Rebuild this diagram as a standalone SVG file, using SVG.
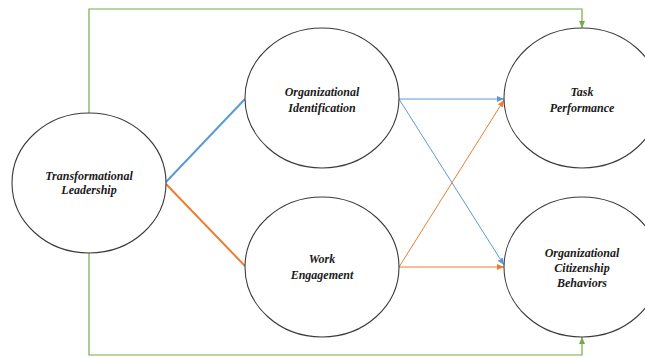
<svg xmlns="http://www.w3.org/2000/svg" width="645" height="358" viewBox="0 0 645 358">
  <style>
    .node ellipse { fill: #ffffff; stroke: #3a3a3a; stroke-width: 1.1; }
    .node text { font-family: 'Liberation Serif', 'Times New Roman', serif; font-size: 12px; font-weight: bold; font-style: italic; fill: #1a1a1a; text-anchor: middle; }
    .blue { stroke: #5B9BD5; fill: none; }
    .orange { stroke: #ED7D31; fill: none; }
    .green { stroke: #70AD47; fill: none; stroke-width: 1.2; }
  </style>
  <defs>
    <marker id="arrBlue" markerUnits="userSpaceOnUse" markerWidth="7" markerHeight="6" refX="7" refY="3" orient="auto">
      <path d="M0,0 L7,3 L0,6 Z" fill="#5B9BD5"/>
    </marker>
    <marker id="arrOrange" markerUnits="userSpaceOnUse" markerWidth="7" markerHeight="6" refX="7" refY="3" orient="auto">
      <path d="M0,0 L7,3 L0,6 Z" fill="#ED7D31"/>
    </marker>
    <marker id="arrGreen" markerUnits="userSpaceOnUse" markerWidth="7" markerHeight="6" refX="7" refY="3" orient="auto">
      <path d="M0,0 L7,3 L0,6 Z" fill="#70AD47"/>
    </marker>
  </defs>

  <g id="connectors">
    <!-- direct paths from leadership to outcomes -->
    <polyline class="green" points="89,113 89,9 582,9 582,28" marker-end="url(#arrGreen)"/>
    <polyline class="green" points="89,253 89,355 582,355 582,337" marker-end="url(#arrGreen)"/>
    <!-- leadership to mediators -->
    <line class="blue" x1="166" y1="182" x2="245" y2="99" stroke-width="2"/>
    <line class="orange" x1="166" y1="184" x2="245" y2="266" stroke-width="2"/>
    <!-- mediators to outcomes -->
    <line class="blue" x1="399" y1="99" x2="504" y2="99" marker-end="url(#arrBlue)"/>
    <line class="blue" x1="399" y1="99" x2="504" y2="265" marker-end="url(#arrBlue)"/>
    <line class="orange" x1="399" y1="267" x2="504" y2="100" marker-end="url(#arrOrange)"/>
    <line class="orange" x1="399" y1="267" x2="504" y2="267" marker-end="url(#arrOrange)"/>
  </g>

  <g id="transformational-leadership" class="node">
    <ellipse cx="89" cy="183" rx="77" ry="70"/>
    <text x="89" y="180">Transformational</text>
    <text x="89" y="194">Leadership</text>
  </g>

  <g id="organizational-identification" class="node">
    <ellipse cx="322" cy="98" rx="77" ry="70"/>
    <text x="322" y="96">Organizational</text>
    <text x="322" y="112">Identification</text>
  </g>

  <g id="work-engagement" class="node">
    <ellipse cx="322" cy="267" rx="77" ry="70"/>
    <text x="322" y="263">Work</text>
    <text x="322" y="279">Engagement</text>
  </g>

  <g id="task-performance" class="node">
    <ellipse cx="582" cy="98" rx="78" ry="70"/>
    <text x="582" y="96">Task</text>
    <text x="582" y="112">Performance</text>
  </g>

  <g id="organizational-citizenship-behaviors" class="node">
    <ellipse cx="582" cy="267" rx="78" ry="70"/>
    <text x="582" y="257">Organizational</text>
    <text x="582" y="272">Citizenship</text>
    <text x="582" y="287">Behaviors</text>
  </g>
</svg>
